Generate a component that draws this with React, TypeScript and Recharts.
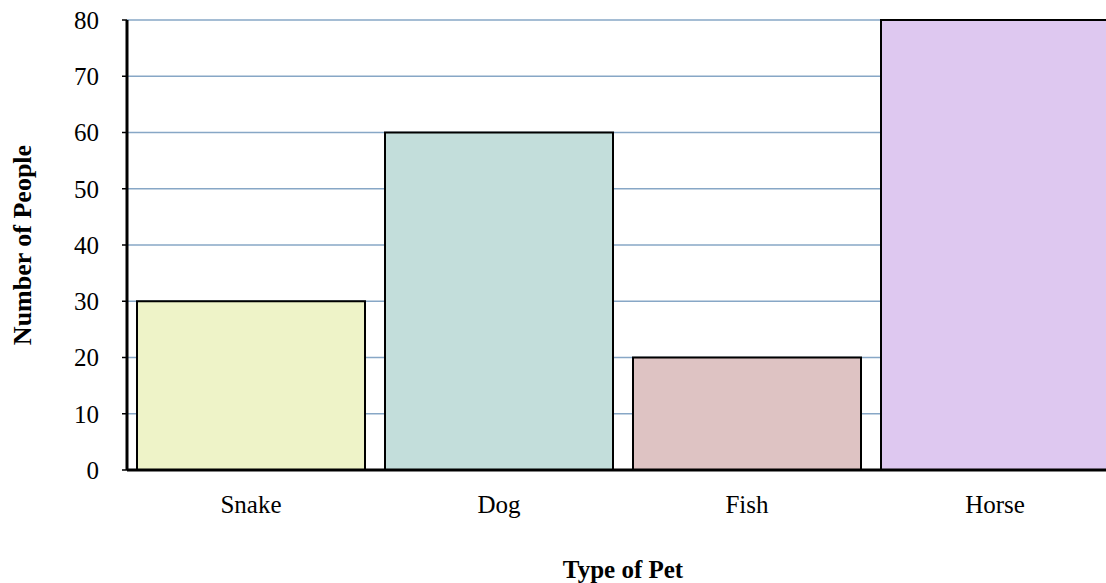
import React from 'react';
import { BarChart, Bar, XAxis, YAxis, CartesianGrid, Cell } from 'recharts';

const categories = ['Snake', 'Dog', 'Fish', 'Horse'];
const values = [30, 60, 20, 80];
const barColors = ['#EEF3C8', '#C3DEDB', '#DEC3C3', '#DEC8F0'];
const yTicks = [0, 10, 20, 30, 40, 50, 60, 70, 80];

const data = categories.map((name, i) => ({ name, value: values[i] }));

const FONT = 'Liberation Serif, Times New Roman, serif';

export default function App() {
  return (
    <div style={{ position: 'absolute', left: 8, top: 8, width: 1098, height: 575, overflow: 'hidden' }}>
      <style>{`html,body{margin:0;overflow:hidden}`}</style>
      <BarChart
        width={1120}
        height={575}
        data={data}
        margin={{ top: 12, right: 9, left: 0, bottom: 0 }}
      >
        <CartesianGrid vertical={false} stroke="#87A7C6" strokeWidth={1.5} />
        <XAxis
          dataKey="name"
          height={113}
          axisLine={{ stroke: '#000', strokeWidth: 3 }}
          tickLine={false}
          tickSize={6}
          tickMargin={19}
          tick={{ fill: '#000', fontSize: 25, fontFamily: FONT }}
          label={{
            value: 'Type of Pet',
            position: 'insideBottom',
            offset: 5,
            style: { fill: '#000', fontSize: 25, fontFamily: FONT, fontWeight: 'bold' },
          }}
        />
        <YAxis
          width={119}
          domain={[0, 80]}
          ticks={yTicks}
          interval={0}
          axisLine={{ stroke: '#000', strokeWidth: 3 }}
          tickLine={{ stroke: '#000', strokeWidth: 1.5 }}
          tickSize={5}
          tickMargin={23}
          tick={{ fill: '#000', fontSize: 25, fontFamily: FONT }}
          label={{
            value: 'Number of People',
            angle: -90,
            position: 'insideLeft',
            offset: 14,
            style: { textAnchor: 'middle', fill: '#000', fontSize: 26, fontFamily: FONT, fontWeight: 'bold' },
          }}
        />
        <Bar dataKey="value" barSize={228} stroke="#000" strokeWidth={2} isAnimationActive={false}>
          {data.map((d, i) => (
            <Cell key={d.name} fill={barColors[i]} />
          ))}
        </Bar>
      </BarChart>
    </div>
  );
}
